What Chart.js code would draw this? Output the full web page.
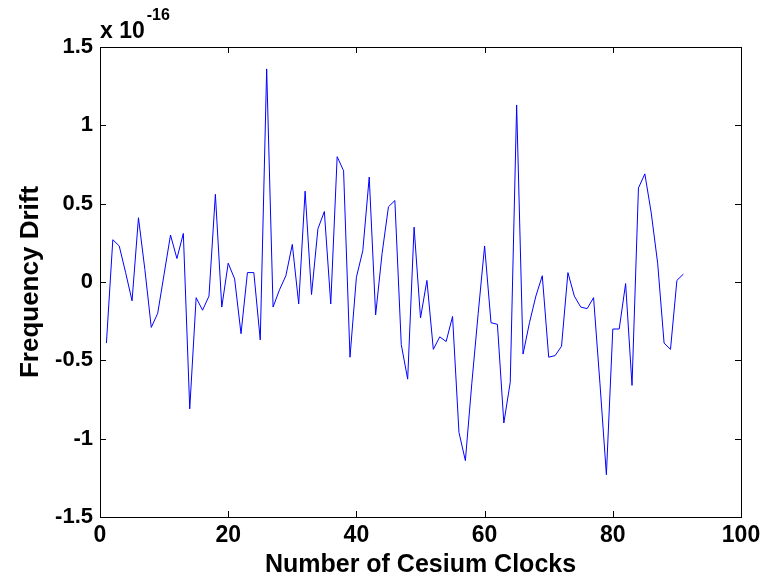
<!DOCTYPE html>
<html>
<head>
<meta charset="utf-8">
<script src="https://cdn.jsdelivr.net/npm/chart.js@4.4.1/dist/chart.umd.min.js"></script>
<style>
    html, body { margin: 0; padding: 0; background: #fff; }
    #wrap { width: 770px; height: 577px; }
</style>
</head>
<body>
<div id="wrap"><canvas id="driftChart"></canvas></div>
<script>
// ===== DATA (frequency drift, units of 1e-16) =====
const clockDrift = [
    -0.39, 0.27, 0.23, 0.06, -0.12, 0.41, 0.08, -0.29, -0.20, 0.05,
    0.30, 0.15, 0.31, -0.81, -0.10, -0.18, -0.09, 0.56, -0.16, 0.12,
    0.02, -0.33, 0.06, 0.06, -0.37, 1.36, -0.16, -0.05, 0.04, 0.24,
    -0.14, 0.58, -0.08, 0.34, 0.45, -0.14, 0.80, 0.71, -0.48, 0.03,
    0.20, 0.67, -0.21, 0.18, 0.48, 0.52, -0.40, -0.62, 0.35, -0.23,
    0.01, -0.43, -0.35, -0.38, -0.22, -0.96, -1.14, -0.65, -0.20, 0.23,
    -0.26, -0.27, -0.90, -0.64, 1.13, -0.46, -0.26, -0.09, 0.04, -0.48,
    -0.47, -0.41, 0.06, -0.09, -0.16, -0.17, -0.10, -0.65, -1.23, -0.30,
    -0.30, -0.01, -0.66, 0.60, 0.69, 0.44, 0.12, -0.39, -0.43, 0.01,
    0.05
];
const clockNumbers = clockDrift.map((v, i) => i + 1);
const xTicks = [0, 20, 40, 60, 80, 100];
const yTicks = [-1.5, -1, -0.5, 0, 0.5, 1, 1.5];

const FONT = '"Liberation Sans", Arial, sans-serif';

// box + inward ticks + exponent label
const matlabFrame = {
    id: 'matlabFrame',
    afterDraw(chart) {
        const ctx = chart.ctx;
        const a = chart.chartArea;
        const xs = chart.scales.x, ys = chart.scales.y;
        ctx.save();
        ctx.strokeStyle = '#000';
        ctx.lineWidth = 1;
        ctx.strokeRect(a.left + 0.5, a.top + 0.5, a.right - a.left, a.bottom - a.top);
        const len = 6;
        ctx.beginPath();
        xTicks.forEach(t => {
            const px = Math.round(xs.getPixelForValue(t)) + 0.5;
            ctx.moveTo(px, a.bottom); ctx.lineTo(px, a.bottom - len);
            ctx.moveTo(px, a.top); ctx.lineTo(px, a.top + len);
        });
        yTicks.forEach(t => {
            const py = Math.round(ys.getPixelForValue(t)) + 0.5;
            ctx.moveTo(a.left, py); ctx.lineTo(a.left + len, py);
            ctx.moveTo(a.right, py); ctx.lineTo(a.right - len, py);
        });
        ctx.stroke();

        // "x 10^-16"
        ctx.fillStyle = '#000';
        ctx.textBaseline = 'alphabetic';
        ctx.textAlign = 'left';
        ctx.font = 'bold 23px ' + FONT;
        ctx.fillText('x 10', a.left, a.top - 9);
        const w = ctx.measureText('x 10').width;
        ctx.font = 'bold 16px ' + FONT;
        ctx.fillText('-16', a.left + w + 2, a.top - 27);
        ctx.restore();
    }
};

new Chart(document.getElementById('driftChart'), {
    type: 'line',
    data: {
        datasets: [{
            data: clockDrift.map((v, i) => ({ x: clockNumbers[i], y: v })),
            borderColor: '#0000ff',
            borderWidth: 1,
            pointRadius: 0,
            tension: 0,
            fill: false
        }]
    },
    options: {
        responsive: true,
        maintainAspectRatio: false,
        animation: false,
        layout: { padding: { top: 47, right: 29, left: 0, bottom: 0 } },
        plugins: {
            legend: { display: false },
            tooltip: { enabled: false }
        },
        scales: {
            x: {
                type: 'linear',
                min: 0,
                max: 100,
                afterBuildTicks: s => { s.ticks = xTicks.map(v => ({ value: v })); },
                afterFit: s => { s.height = 60; },
                grid: { display: false, drawTicks: false },
                border: { display: false },
                ticks: {
                    color: '#000',
                    padding: 5,
                    maxRotation: 0,
                    font: { family: FONT, size: 23, weight: 'bold' }
                },
                title: {
                    display: true,
                    text: 'Number of Cesium Clocks',
                    color: '#000',
                    padding: { top: 0, bottom: -3 },
                    font: { family: FONT, size: 25, weight: 'bold' }
                }
            },
            y: {
                min: -1.5,
                max: 1.5,
                afterBuildTicks: s => { s.ticks = yTicks.map(v => ({ value: v })); },
                afterFit: s => { s.width = 100; },
                grid: { display: false, drawTicks: false },
                border: { display: false },
                ticks: {
                    color: '#000',
                    padding: 7,
                    font: { family: FONT, size: 22, weight: 'bold' },
                    callback: v => String(v)
                },
                title: {
                    display: true,
                    text: 'Frequency Drift',
                    color: '#000',
                    padding: { top: 15, bottom: 0 },
                    font: { family: FONT, size: 26, weight: 'bold' }
                }
            }
        }
    },
    plugins: [matlabFrame]
});
</script>
</body>
</html>
